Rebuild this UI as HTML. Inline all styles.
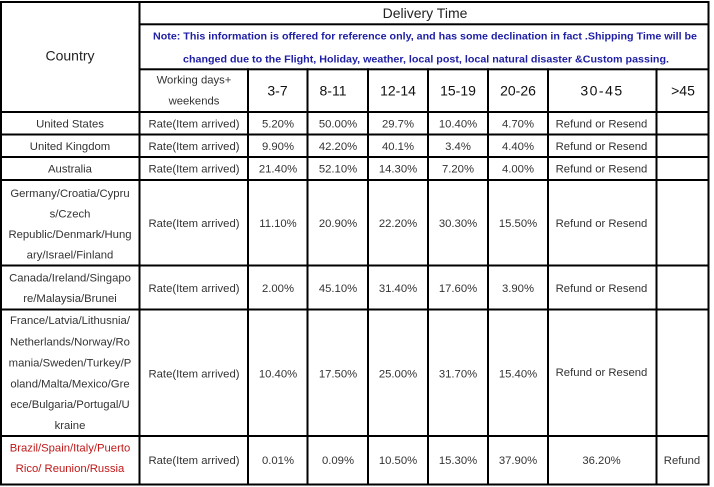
<!DOCTYPE html>
<html>
<head>
<meta charset="utf-8">
<style>
html,body{margin:0;padding:0;background:#fff;}
svg{display:block;}
text{font-family:"Liberation Sans",Arial,sans-serif;}
.d{font-size:11.3px;fill:#333;}
.h{font-size:14px;fill:#222;}
.n{font-size:10.3px;fill:#1e1ea6;font-weight:bold;}
.r{font-size:11.3px;fill:#c01818;}
</style>
</head>
<body>
<svg width="714" height="487" viewBox="0 0 714 487" xmlns="http://www.w3.org/2000/svg">
<rect x="0" y="0" width="714" height="487" fill="#fff"/>
<g fill="#000">
<rect x="0" y="1" width="709.5" height="2"/>
<rect x="138.5" y="23.3" width="571" height="2"/>
<rect x="138.5" y="68.3" width="571" height="2"/>
<rect x="0" y="111" width="709.5" height="2"/>
<rect x="0" y="133.5" width="709.5" height="2"/>
<rect x="0" y="156" width="709.5" height="2"/>
<rect x="0" y="179" width="709.5" height="2"/>
<rect x="0" y="264.5" width="709.5" height="2"/>
<rect x="0" y="308.5" width="709.5" height="2"/>
<rect x="0" y="435" width="709.5" height="2"/>
<rect x="0" y="483.5" width="709.5" height="2"/>
<rect x="0" y="1" width="2" height="484.5"/>
<rect x="138.5" y="1" width="2" height="484.5"/>
<rect x="707.5" y="1" width="2" height="484.5"/>
<rect x="247" y="68.3" width="2" height="417"/>
<rect x="306.5" y="68.3" width="2" height="417"/>
<rect x="367" y="68.3" width="2" height="417"/>
<rect x="427" y="68.3" width="2" height="417"/>
<rect x="487" y="68.3" width="2" height="417"/>
<rect x="547" y="68.3" width="2" height="417"/>
<rect x="655.5" y="68.3" width="2" height="417"/>
</g>

<text class="h" x="70" y="60.5" text-anchor="middle" font-size="13.9">Country</text>
<text class="h" x="425" y="18" text-anchor="middle">Delivery Time</text>
<text class="n" x="153" y="39.5" textLength="544" lengthAdjust="spacingAndGlyphs">Note: This information is offered for reference only, and has some declination in fact .Shipping Time will be</text>
<text class="n" x="183" y="62.5" textLength="486" lengthAdjust="spacingAndGlyphs">changed due to the Flight, Holiday, weather, local post, local natural disaster &amp;Custom passing.</text>

<text class="d" x="194" y="83.5" text-anchor="middle">Working days+</text>
<text class="d" x="194" y="104.5" text-anchor="middle">weekends</text>
<g class="h" text-anchor="middle" font-size="13.8" style="fill:#111">
<text x="277.5" y="95.5">3-7</text>
<text x="333" y="95.5">8-11</text>
<text x="398" y="95.5">12-14</text>
<text x="458" y="95.5">15-19</text>
<text x="518" y="95.5">20-26</text>
<text x="602" y="95.5" letter-spacing="1.5">30-45</text>
<text x="683" y="95.5">&gt;45</text>
</g>

<g class="d" text-anchor="middle">
<text x="70" y="127.5">United States</text>
<text x="194" y="127.5">Rate(Item arrived)</text>
<text x="278" y="127.5">5.20%</text>
<text x="338" y="127.5">50.00%</text>
<text x="398" y="127.5">29.7%</text>
<text x="458" y="127.5">10.40%</text>
<text x="518" y="127.5">4.70%</text>
<text x="601.5" y="127.5">Refund or Resend</text>

<text x="70" y="150">United Kingdom</text>
<text x="194" y="150">Rate(Item arrived)</text>
<text x="278" y="150">9.90%</text>
<text x="338" y="150">42.20%</text>
<text x="398" y="150">40.1%</text>
<text x="458" y="150">3.4%</text>
<text x="518" y="150">4.40%</text>
<text x="601.5" y="150">Refund or Resend</text>

<text x="70" y="172.7">Australia</text>
<text x="194" y="172.7">Rate(Item arrived)</text>
<text x="278" y="172.7">21.40%</text>
<text x="338" y="172.7">52.10%</text>
<text x="398" y="172.7">14.30%</text>
<text x="458" y="172.7">7.20%</text>
<text x="518" y="172.7">4.00%</text>
<text x="601.5" y="172.7">Refund or Resend</text>

<text x="70" y="197">Germany/Croatia/Cypru</text>
<text x="70" y="217.3">s/Czech</text>
<text x="70" y="238">Republic/Denmark/Hung</text>
<text x="70" y="258.5">ary/Israel/Finland</text>
<text x="194" y="227">Rate(Item arrived)</text>
<text x="278" y="227">11.10%</text>
<text x="338" y="227">20.90%</text>
<text x="398" y="227">22.20%</text>
<text x="458" y="227">30.30%</text>
<text x="518" y="227">15.50%</text>
<text x="601.5" y="227">Refund or Resend</text>

<text x="70" y="281.5">Canada/Ireland/Singapo</text>
<text x="70" y="302">re/Malaysia/Brunei</text>
<text x="194" y="292">Rate(Item arrived)</text>
<text x="278" y="292">2.00%</text>
<text x="338" y="292">45.10%</text>
<text x="398" y="292">31.40%</text>
<text x="458" y="292">17.60%</text>
<text x="518" y="292">3.90%</text>
<text x="601.5" y="292">Refund or Resend</text>

<text x="70" y="324">France/Latvia/Lithusnia/</text>
<text x="70" y="345.5">Netherlands/Norway/Ro</text>
<text x="70" y="366.5">mania/Sweden/Turkey/P</text>
<text x="70" y="387.5">oland/Malta/Mexico/Gre</text>
<text x="70" y="408">ece/Bulgaria/Portugal/U</text>
<text x="70" y="429">kraine</text>
<text x="194" y="377.5">Rate(Item arrived)</text>
<text x="278" y="377.5">10.40%</text>
<text x="338" y="377.5">17.50%</text>
<text x="398" y="377.5">25.00%</text>
<text x="458" y="377.5">31.70%</text>
<text x="518" y="377.5">15.40%</text>
<text x="601.5" y="376">Refund or Resend</text>

<text x="194" y="464">Rate(Item arrived)</text>
<text x="278" y="464">0.01%</text>
<text x="338" y="464">0.09%</text>
<text x="398" y="464">10.50%</text>
<text x="458" y="464">15.30%</text>
<text x="518" y="464">37.90%</text>
<text x="601.5" y="464">36.20%</text>
<text x="682" y="464">Refund</text>
</g>
<g class="r" text-anchor="middle">
<text x="70" y="451.5">Brazil/Spain/Italy/Puerto</text>
<text x="70" y="472">Rico/ Reunion/Russia</text>
</g>
</svg>
</body>
</html>
